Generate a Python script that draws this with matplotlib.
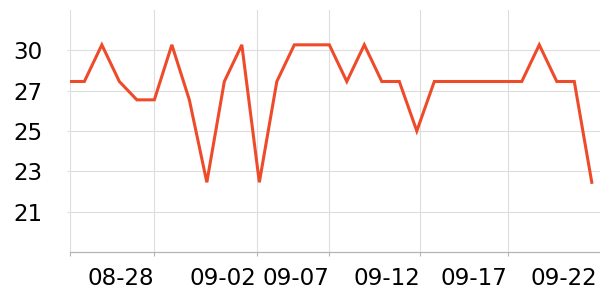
import matplotlib
matplotlib.use("Agg")
import matplotlib.pyplot as plt

# ---- data ----
dates = ['08-23', '08-24', '08-25', '08-26', '08-27', '08-28', '08-29', '08-30',
         '08-31', '09-01', '09-02', '09-03', '09-04', '09-05', '09-06', '09-07',
         '09-08', '09-09', '09-10', '09-11', '09-12', '09-13', '09-14', '09-15',
         '09-16', '09-17', '09-18', '09-19', '09-20', '09-21', '09-22']
values = [27.9, 27.9, 29.9, 27.9, 26.9, 26.9, 29.9, 26.9,
          22.4, 27.9, 29.9, 22.4, 27.9, 29.9, 29.9, 29.9,
          27.9, 29.9, 27.9, 27.9, 25.2, 27.9, 27.9, 27.9,
          27.9, 27.9, 27.9, 29.9, 27.9, 27.9, 22.4]

# axis ticks (positions in day index units) and labels
xtick_pos = [5.0, 10.84, 15.01, 20.2, 25.19, 30.3]
xtick_labels = ['08-28', '09-02', '09-07', '09-12', '09-17', '09-22']
ytick_vals = [20.8, 23.0, 25.2, 27.4, 29.6]
ytick_labels = ['{:.0f}'.format(v) for v in ytick_vals]

LINE = '#ee4b2b'
GRID = '#dddddd'
AXIS = '#b5b5b5'
FS = 16.6

fig = plt.figure(figsize=(6, 3), dpi=100)
ax = fig.add_axes([70 / 600, 48 / 300, 530 / 600, 242 / 300])

x = list(range(len(dates)))
ax.plot(x, values, color=LINE, linewidth=2.2, solid_joinstyle='miter', zorder=3)

xl = (0.18, 30.47)
ax.set_xlim(*xl)
ax.set_ylim(18.6, 31.8)

ax.set_xticks([xl[0]] + xtick_pos)
ax.set_xticklabels([''] + xtick_labels, fontsize=FS, ha='right')
ax.set_yticks(ytick_vals)
ax.set_yticklabels(ytick_labels, fontsize=FS)

ax.grid(True, color=GRID, linewidth=0.8)
ax.set_axisbelow(True)

for s in ['top', 'right', 'left']:
    ax.spines[s].set_visible(False)
ax.spines['bottom'].set_color(AXIS)
ax.spines['bottom'].set_linewidth(0.9)

ax.tick_params(axis='x', length=3, width=0.8, color=AXIS, pad=7.5, labelcolor='black')
ax.tick_params(axis='y', length=2, width=0.8, color=GRID, pad=18, labelcolor='black')

# last label (09-22) has no gridline or tick mark
last = ax.xaxis.get_major_ticks()[-1]
last.gridline.set_visible(False)
last.tick1line.set_visible(False)

fig.savefig('out.png', dpi=100)
